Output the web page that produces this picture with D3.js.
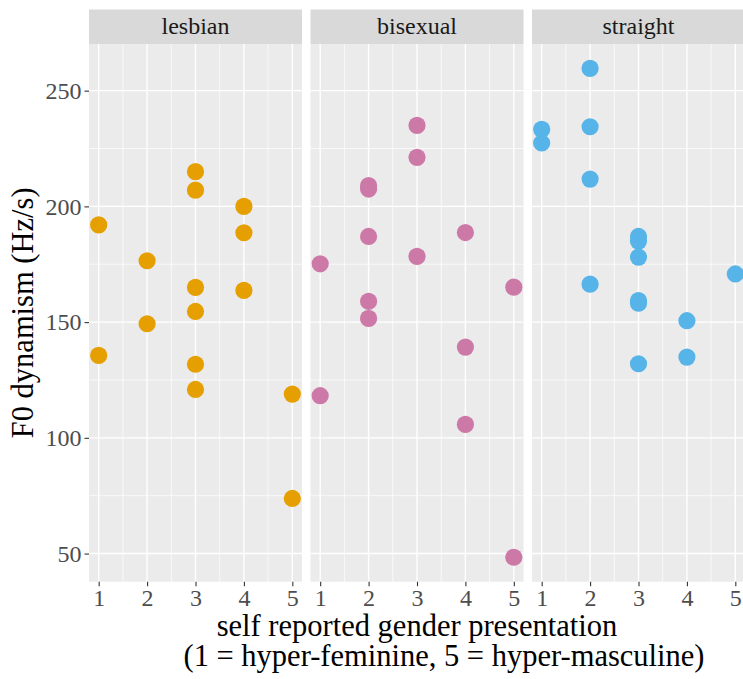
<!DOCTYPE html>
<html>

<head>
  <meta charset="utf-8">
  <title>F0 dynamism by gender presentation</title>
  <style>
  body{
    margin: 0;
    background: #fff;
  }
  </style>
</head>

<body>
  <svg width="743" height="679"></svg>
  <script src="https://d3js.org/d3.v7.min.js"></script>
  <script>
    // facets
    var groups = ["lesbian", "bisexual", "straight"];
    var groupColors = ["#E69F00", "#CC79A7", "#56B4E9"];

    // self reported presentation (x) and F0 dynamism (y), per facet
    var lesbianX = [1, 1, 2, 2, 3, 3, 3, 3, 3, 3, 4, 4, 4, 5, 5];
    var lesbianY = [192, 135.6, 176.5, 149.3, 215, 207, 165, 154.6, 131.8, 120.9, 200, 188.6, 163.7, 118.9, 73.8];

    var bisexualX = [1, 1, 2, 2, 2, 2, 2, 3, 3, 3, 4, 4, 4, 5, 5];
    var bisexualY = [175.2, 118.2, 209, 207.5, 187, 159, 151.6, 235, 221.2, 178.4, 188.7, 139.2, 105.8, 165.1, 48.4];

    var straightX = [1, 1, 2, 2, 2, 2, 3, 3, 3, 3, 3, 3, 4, 4, 5];
    var straightY = [233.3, 227.4, 259.6, 234.4, 211.8, 166.4, 187, 185, 178.1, 159.3, 158.2, 132, 150.6, 134.9, 170.8];

    var xTicks = [1, 2, 3, 4, 5];
    var xMinor = [1.5, 2.5, 3.5, 4.5];
    var yTicks = [50, 100, 150, 200, 250];
    var yMinor = [75, 125, 175, 225];

    var xTitle1 = "self reported gender presentation";
    var xTitle2 = "(1 = hyper-feminine, 5 = hyper-masculine)";
    var yTitle = "F0 dynamism (Hz/s)";

    var seriesX = [lesbianX, bisexualX, straightX];
    var seriesY = [lesbianY, bisexualY, straightY];

    var serif = "Liberation Serif";

    // layout
    var panelLeft = 89, panelW = 213, gap = 8.5;
    var stripTop = 9.5, stripH = 34.5;
    var plotTop = stripTop + stripH, plotBottom = 581.7;

    var allY = d3.merge(seriesY);
    var yExt = d3.extent(allY);
    var yPad = (yExt[1] - yExt[0]) * 0.05;
    var yScale = d3.scaleLinear()
      .domain([yExt[0] - yPad, yExt[1] + yPad])
      .range([plotBottom, plotTop]);

    var xScale = d3.scaleLinear().domain([0.8, 5.2]).range([0, panelW]);

    var svg = d3.select("svg");

    groups.forEach(function (g, i) {
      var x0 = panelLeft + i * (panelW + gap);
      var panel = svg.append("g").attr("transform", "translate(" + x0 + ",0)");

      // strip
      panel.append("rect")
        .attr("x", 0).attr("y", stripTop)
        .attr("width", panelW).attr("height", stripH)
        .attr("fill", "#D9D9D9");
      panel.append("text")
        .attr("x", panelW / 2).attr("y", stripTop + stripH / 2)
        .attr("dy", "0.3em")
        .attr("text-anchor", "middle")
        .style("font-family", serif)
        .style("font-size", "24px")
        .attr("fill", "#1A1A1A")
        .text(g);

      // background
      panel.append("rect")
        .attr("x", 0).attr("y", plotTop)
        .attr("width", panelW).attr("height", plotBottom - plotTop)
        .attr("fill", "#EBEBEB");

      // grid
      panel.selectAll(".ymin").data(yMinor).enter().append("line")
        .attr("x1", 0).attr("x2", panelW)
        .attr("y1", d => yScale(d)).attr("y2", d => yScale(d))
        .attr("stroke", "#fff").attr("stroke-width", 0.7);
      panel.selectAll(".xmin").data(xMinor).enter().append("line")
        .attr("y1", plotTop).attr("y2", plotBottom)
        .attr("x1", d => xScale(d)).attr("x2", d => xScale(d))
        .attr("stroke", "#fff").attr("stroke-width", 0.7);
      panel.selectAll(".ymaj").data(yTicks).enter().append("line")
        .attr("x1", 0).attr("x2", panelW)
        .attr("y1", d => yScale(d)).attr("y2", d => yScale(d))
        .attr("stroke", "#fff").attr("stroke-width", 1.4);
      panel.selectAll(".xmaj").data(xTicks).enter().append("line")
        .attr("y1", plotTop).attr("y2", plotBottom)
        .attr("x1", d => xScale(d)).attr("x2", d => xScale(d))
        .attr("stroke", "#fff").attr("stroke-width", 1.4);

      // x axis
      var xAxis = panel.append("g")
        .attr("transform", "translate(0," + plotBottom + ")")
        .call(d3.axisBottom(xScale).tickValues(xTicks).tickSize(4.5).tickPadding(3).tickFormat(d3.format("d")));
      xAxis.attr("font-family", serif);
      xAxis.select(".domain").remove();
      xAxis.selectAll("line").attr("stroke", "#333333").attr("stroke-width", 1.1);
      xAxis.selectAll("text")
        .style("font-family", serif)
        .style("font-size", "24px").attr("fill", "#4D4D4D");

      // points
      panel.selectAll("circle")
        .data(seriesX[i].map((d, j) => [d, seriesY[i][j]]))
        .enter().append("circle")
        .attr("cx", d => xScale(d[0]))
        .attr("cy", d => yScale(d[1]))
        .attr("r", 8.6)
        .attr("fill", groupColors[i]);
    });

    // y axis
    var yAxis = svg.append("g")
      .attr("transform", "translate(" + panelLeft + ",0)")
      .call(d3.axisLeft(yScale).tickValues(yTicks).tickSize(4.5).tickPadding(3));
    yAxis.attr("font-family", serif);
    yAxis.select(".domain").remove();
    yAxis.selectAll("line").attr("stroke", "#333333").attr("stroke-width", 1.1);
    yAxis.selectAll("text")
      .style("font-family", serif)
      .style("font-size", "24px").attr("fill", "#4D4D4D");

    // titles
    var midX = panelLeft + (3 * panelW + 2 * gap) / 2;
    svg.append("text")
      .attr("x", midX).attr("y", 636)
      .attr("text-anchor", "middle")
      .style("font-family", serif)
      .style("font-size", "30.5px")
      .attr("fill", "#000")
      .text(xTitle1);
    svg.append("text")
      .attr("x", midX + 27).attr("y", 666)
      .attr("text-anchor", "middle")
      .style("font-family", serif)
      .style("font-size", "30.5px")
      .attr("fill", "#000")
      .text(xTitle2);
    svg.append("text")
      .attr("transform", "translate(33," + (plotTop + plotBottom) / 2 + ") rotate(-90)")
      .attr("text-anchor", "middle")
      .style("font-family", serif)
      .style("font-size", "30.5px")
      .attr("fill", "#000")
      .text(yTitle);
  </script>

</body>

</html>
